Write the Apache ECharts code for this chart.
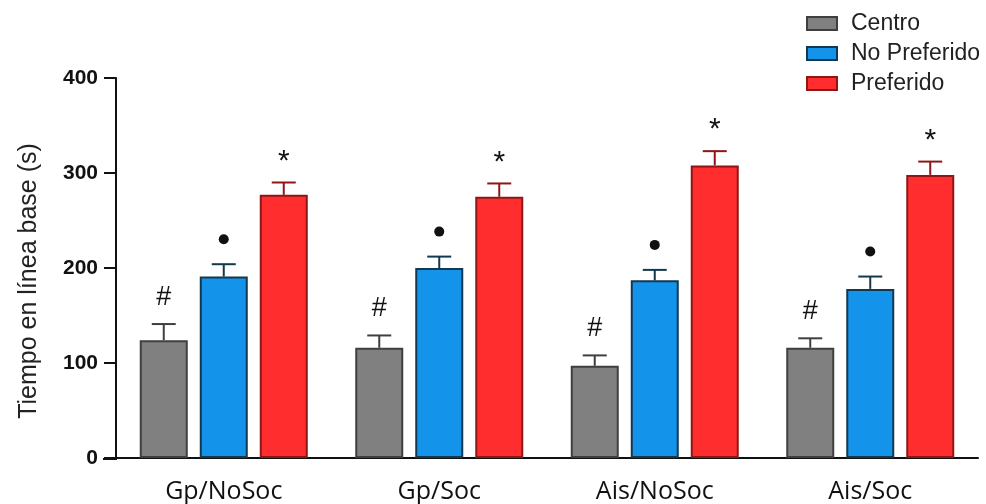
<!DOCTYPE html>
<html>
<head>
<meta charset="utf-8">
<script src="https://cdn.jsdelivr.net/npm/echarts@6/dist/echarts.min.js"></script>
<style>html,body{margin:0;padding:0;background:#fff;}#c{width:986px;height:504px;}</style>
</head>
<body>
<div id="c"></div>
<script>
const categories = ['Gp/NoSoc', 'Gp/Soc', 'Ais/NoSoc', 'Ais/Soc'];
const seriesNames = ['Centro', 'No Preferido', 'Preferido'];
const centro = [124, 116, 97, 116];
const noPreferido = [191, 200, 187, 178];
const preferido = [277, 275, 308, 298];
const centroSem = [17, 13, 11, 10];
const noPreferidoSem = [13, 12, 11, 13];
const preferidoSem = [13, 14, 15, 14];
const marks = ['#', '●', '*'];
const yTicks = [0, 100, 200, 300, 400];

const values = [centro, noPreferido, preferido];
const sems = [centroSem, noPreferidoSem, preferidoSem];
const fills = ['#808080', '#1493EA', '#FF2D2D'];
const borders = ['#3f3f3f', '#12394d', '#8e1616'];
const BAR_W = 48, GAP = 12;

const chart = echarts.init(document.getElementById('c'));
const series = [];
values.forEach((vals, i) => {
  series.push({
    name: seriesNames[i], type: 'bar', data: vals, barWidth: BAR_W, barGap: '25%',
    itemStyle: { color: fills[i], borderColor: borders[i], borderWidth: 2 },
    z: 2
  });
});
values.forEach((vals, i) => {
  series.push({
    type: 'custom', silent: true, z: 3,
    data: vals.map((v, j) => [j, v, v + sems[i][j]]),
    renderItem: function (params, api) {
      const off = (i - 1) * (BAR_W + GAP);
      const base = api.coord([api.value(0), api.value(1)]);
      const top = api.coord([api.value(0), api.value(2)]);
      const x = base[0] + off;
      const children = [
        { type: 'line', shape: { x1: x, y1: base[1], x2: x, y2: top[1] }, style: { stroke: borders[i], lineWidth: 2 } },
        { type: 'line', shape: { x1: x - 12, y1: top[1], x2: x + 12, y2: top[1] }, style: { stroke: borders[i], lineWidth: 2 } }
      ];
      if (marks[i] === '●') {
        children.push({ type: 'circle', shape: { cx: x, cy: top[1] - 25, r: 5 }, style: { fill: '#111' } });
      } else {
        children.push({ type: 'text', style: { text: marks[i], x: x, y: top[1] - (marks[i] === '*' ? 21 : 27), align: 'center', verticalAlign: 'middle', fontSize: marks[i] === '*' ? 30 : 27, fontFamily: 'Liberation Sans, Arial', fill: '#111' } });
      }
      return { type: 'group', children: children };
    }
  });
});

chart.setOption({
  animation: false,
  backgroundColor: '#fff',
  grid: { left: 116, top: 78, width: 862, height: 381 },
  legend: {
    data: seriesNames, orient: 'vertical', left: 801, top: 7,
    icon: 'rect', itemWidth: 30, itemHeight: 13, itemGap: 7,
    textStyle: { fontSize: 23, fontFamily: 'Liberation Sans, Arial', color: '#222', padding: [0, 0, 0, 9] }
  },
  xAxis: {
    type: 'category', data: categories,
    axisLine: { lineStyle: { color: '#111', width: 2 } },
    axisTick: { alignWithLabel: true, length: 7, lineStyle: { color: '#111', width: 2 } },
    axisLabel: { fontSize: 25, fontFamily: 'Open Sans', color: '#111', margin: 21 }
  },
  yAxis: {
    type: 'value', min: yTicks[0], max: yTicks[yTicks.length - 1], interval: 100,
    name: 'Tiempo en línea base (s)', nameLocation: 'middle', nameGap: 74,
    nameTextStyle: { fontSize: 25, fontFamily: 'Liberation Sans, Arial', color: '#222', padding: [0, 26, 0, 0] },
    axisLine: { show: true, lineStyle: { color: '#111', width: 2 } },
    axisTick: { show: true, length: 12, lineStyle: { color: '#111', width: 2 } },
    axisLabel: { fontSize: 21, fontWeight: 'bold', fontFamily: 'Liberation Sans, Arial', color: '#111', margin: 18 },
    splitLine: { show: false }
  },
  graphic: [{ type: 'line', shape: { x1: 103, y1: 459, x2: 117, y2: 459 }, style: { stroke: '#111', lineWidth: 2 } }],
  series: series
});
</script>
</body>
</html>
